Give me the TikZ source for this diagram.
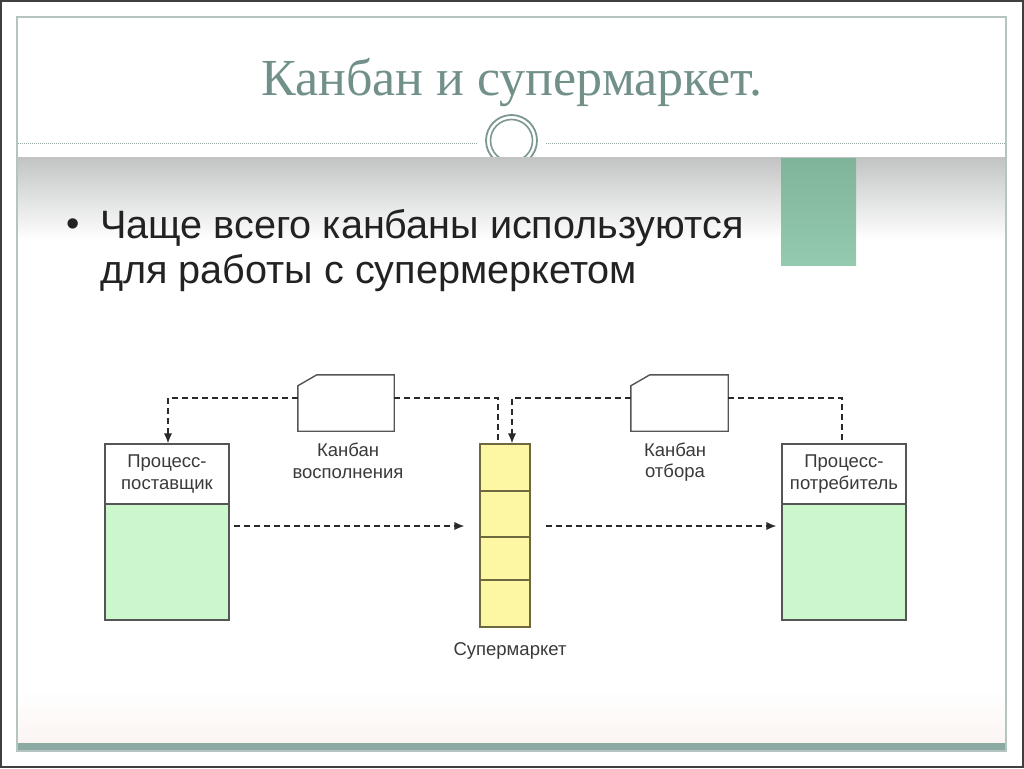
\documentclass[tikz,border=0pt]{standalone}
\usepackage{fontspec}
\setmainfont{Liberation Serif}
\newfontfamily\arialfont{Liberation Sans}
\usetikzlibrary{arrows.meta}
\definecolor{titlecol}{HTML}{72908A}
\definecolor{framecol}{HTML}{B4C4C0}
\definecolor{barcol}{HTML}{8CA9A3}
\definecolor{circcol}{HTML}{7C9792}
\definecolor{dotcol}{HTML}{98A6A3}
\definecolor{bandtop}{HTML}{C2C4C4}
\definecolor{greentop}{HTML}{80B49A}
\definecolor{greenbot}{HTML}{94CAAE}
\definecolor{bodytext}{HTML}{222222}
\definecolor{lbltext}{HTML}{3A3A3A}
\definecolor{boxcol}{HTML}{555555}
\definecolor{greenfill}{HTML}{CCF6CC}
\definecolor{yellowfill}{HTML}{FDF6A2}
\definecolor{smcol}{HTML}{6E6840}
\definecolor{kancol}{HTML}{2A2A2A}
\definecolor{pinkish}{HTML}{FBF5F2}
\newcommand\lblfont{\arialfont\fontsize{18.5}{21.5}\selectfont}
\tikzset{
  box/.style={draw=boxcol, line width=1.4pt, minimum width=124pt, minimum height=60pt,
    inner sep=0pt, font=\lblfont, text=lbltext, align=center},
  cell/.style={draw=smcol, line width=1.4pt, fill=yellowfill, minimum width=50pt, inner sep=0pt},
  card/.style={draw=boxcol, line width=1.4pt, fill=white},
  lbl/.style={font=\lblfont, text=lbltext, align=center, inner sep=0pt},
  kan/.style={draw=kancol, line width=1.5pt, dash pattern=on 6pt off 4pt},
  tip/.style={-{Latex[length=10pt,width=8.5pt]}}
}
\begin{document}
\begin{tikzpicture}[x=1pt,y=-1pt]
\useasboundingbox (0,0) rectangle (1024,768);
\fill[white] (0,0) rectangle (1024,768);
% divider circle (drawn first, cut by the band)
\draw[circcol, line width=1.8pt] (511.5,140.5) circle[radius=25.5];
\draw[circcol, line width=1.6pt] (511.5,140.5) circle[radius=21];
% slide background
\shade[top color=white, bottom color=pinkish] (17,690) rectangle (1006,743);
\shade[top color=bandtop, bottom color=white] (17,157) rectangle (1006,240);
\fill[barcol] (17,743) rectangle (1006,751);
\draw[framecol, line width=1.4pt] (17,17) rectangle (1006,751);
\draw[black!75, line width=2pt] (1,1) rectangle (1023,767);
% title
\node[text=titlecol, anchor=base, inner sep=0pt] (title) at (512,95)
  {\fontsize{52}{56}\selectfont Канбан и супермаркет.};
% dotted divider
\draw[dotcol, line width=1pt, dash pattern=on 1pt off 1pt] (18,143) -- (478,143);
\draw[dotcol, line width=1pt, dash pattern=on 1pt off 1pt] (546,143) -- (1005,143);
% green rectangle
\shade[top color=greentop, bottom color=greenbot] (781,158) rectangle (856,265);
% bullet text
\node[text=bodytext, anchor=center, inner sep=0pt] (bullet) at (73,228)
  {\arialfont\fontsize{38}{40}\selectfont •};
\node[text=bodytext, anchor=base west, inner sep=0pt] (line1) at (100,238)
  {\arialfont\fontsize{39.6}{42}\selectfont Чаще всего канбаны используются};
\node[text=bodytext, anchor=base west, inner sep=0pt] (line2) at (100,283)
  {\arialfont\fontsize{39.6}{42}\selectfont для работы с супермеркетом};
% process boxes
\node[box, fill=white] (sup) at (167,474) {Процесс-\\поставщик};
\node[box, fill=greenfill, minimum height=116pt] (supg) at (167,562) {};
\node[box, fill=white] (con) at (844,474) {Процесс-\\потребитель};
\node[box, fill=greenfill, minimum height=116pt] (cong) at (844,562) {};
% supermarket
\node[cell, minimum height=47pt] (c1) at (505,467.5) {};
\node[cell, minimum height=46pt] (c2) at (505,514) {};
\node[cell, minimum height=43pt] (c3) at (505,558.5) {};
\node[cell, minimum height=47pt] (c4) at (505,603.5) {};
\node[lbl] (smlabel) at (510,651) {Супермаркет};
% kanban cards
\node[inner sep=0pt, minimum width=96pt, minimum height=56pt] (k1) at (346,403) {};
\draw[card] (k1.south west) -- ([yshift=-11pt]k1.north west) -- ([xshift=19pt]k1.north west)
  -- (k1.north east) -- (k1.south east) -- cycle;
\node[inner sep=0pt, minimum width=97pt, minimum height=56pt] (k2) at (679.5,403) {};
\draw[card] (k2.south west) -- ([yshift=-11pt]k2.north west) -- ([xshift=19pt]k2.north west)
  -- (k2.north east) -- (k2.south east) -- cycle;
\node[lbl] (k1lab) at (348,461) {Канбан\\восполнения};
\node[lbl] (k2lab) at (675,462) {Канбан\\отбора};
% kanban loops
\draw[kan, tip] ([yshift=5pt]k1.west) -| ([xshift=1pt]sup.north);
\draw[kan] ([yshift=5pt]k1.east) -| ([xshift=-7pt]c1.north);
\draw[kan, tip] ([yshift=5pt]k2.west) -| ([xshift=7pt]c1.north);
\draw[kan] ([yshift=5pt]k2.east) -| ([xshift=-2pt]con.north);
% material flow
\coordinate (flowy) at (0,526);
\draw[kan, tip, shorten <=4pt, shorten >=15pt] (supg.east |- flowy) -- (c2.west |- flowy);
\draw[kan, tip, shorten <=15pt, shorten >=5pt] (c2.east |- flowy) -- (cong.west |- flowy);
\end{tikzpicture}
\end{document}
